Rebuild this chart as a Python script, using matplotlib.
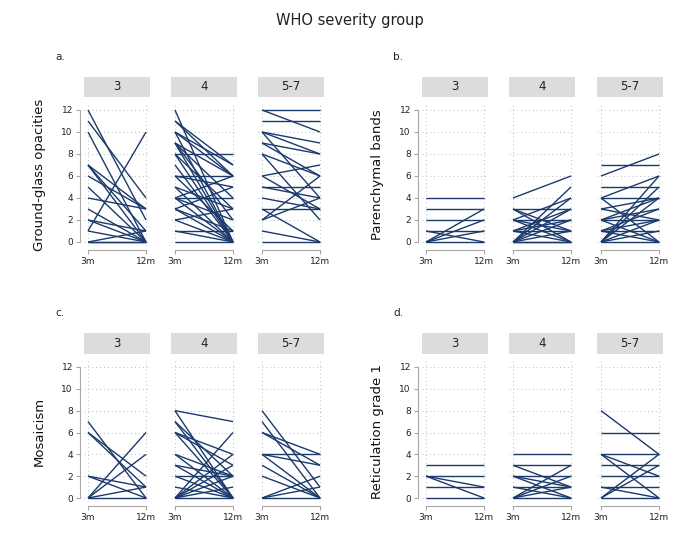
import matplotlib
matplotlib.use("Agg")
import matplotlib.pyplot as plt

# ---------------- data ----------------
time_labels = ["3m", "12m"]
facet_names = ["3", "4", "5-7"]
panel_titles = ["a.", "b.", "c.", "d."]
ylabels = ["Ground-glass opacities", "Parenchymal bands", "Mosaicism", "Reticulation grade 1"]

# a. Ground-glass opacities
a3_3m = [12, 11, 10, 7, 7, 7, 6, 5, 4, 3, 2, 2, 1, 1, 0, 0, 0]
a3_12m = [2, 4, 0, 3, 1, 0, 3, 0, 3, 0, 1, 0, 10, 0, 0, 1, 0]
a4_3m = [12, 11, 11, 10, 10, 10, 9, 9, 9, 9, 8, 8, 8, 7, 6, 6, 6, 5, 5, 4, 4, 4, 4, 3, 3, 3, 2, 2, 1, 1, 0]
a4_12m = [0, 7, 6, 6, 7, 0, 6, 4, 0, 2, 8, 0, 3, 0, 6, 5, 1, 3, 0, 4, 2, 0, 6, 5, 1, 0, 3, 0, 1, 0, 0]
a5_3m = [12, 12, 11, 10, 10, 10, 9, 9, 8, 8, 6, 6, 5, 5, 4, 3, 3, 2, 2, 1, 0]
a5_12m = [12, 10, 11, 9, 8, 4, 8, 6, 6, 2, 7, 3, 5, 4, 3, 3, 0, 6, 4, 0, 0]

# b. Parenchymal bands
b3_3m = [4, 3, 2, 1, 1, 0, 0, 0, 0]
b3_12m = [4, 3, 2, 1, 0, 3, 2, 1, 0]
b4_3m = [4, 3, 3, 3, 2, 2, 2, 2, 1, 1, 1, 1, 0, 0, 0, 0, 0, 0, 0]
b4_12m = [6, 3, 1, 0, 2, 0, 1, 4, 1, 2, 0, 3, 5, 4, 3, 2, 1, 0, 0]
b5_3m = [7, 6, 5, 4, 4, 4, 3, 3, 2, 2, 2, 2, 1, 1, 1, 1, 0, 0, 0, 0, 0, 0]
b5_12m = [7, 8, 5, 4, 6, 0, 4, 2, 2, 3, 0, 4, 1, 3, 2, 0, 6, 5, 4, 2, 1, 0]

# c. Mosaicism
c3_3m = [7, 6, 6, 2, 2, 0, 0, 0, 0]
c3_12m = [0, 2, 1, 1, 0, 6, 4, 1, 0]
c4_3m = [8, 8, 7, 7, 6, 6, 6, 4, 4, 3, 3, 2, 2, 1, 0, 0, 0, 0, 0, 0]
c4_12m = [7, 0, 2, 0, 4, 3, 0, 2, 0, 2, 0, 2, 0, 0, 6, 4, 3, 2, 1, 0]
c5_3m = [8, 7, 6, 6, 4, 4, 4, 3, 2, 0, 0, 0]
c5_12m = [1, 0, 4, 3, 4, 3, 0, 0, 0, 2, 1, 0]

# d. Reticulation grade 1
d3_3m = [3, 2, 2, 2, 1, 0]
d3_12m = [3, 2, 1, 0, 1, 0]
d4_3m = [4, 3, 3, 2, 2, 2, 1, 1, 0, 0, 0, 0]
d4_12m = [4, 3, 1, 2, 1, 0, 1, 0, 3, 2, 1, 0]
d5_3m = [8, 6, 4, 4, 4, 3, 2, 1, 1, 0, 0, 0]
d5_12m = [4, 6, 4, 2, 0, 3, 2, 1, 0, 4, 3, 0]

panels = [
    [(a3_3m, a3_12m), (a4_3m, a4_12m), (a5_3m, a5_12m)],
    [(b3_3m, b3_12m), (b4_3m, b4_12m), (b5_3m, b5_12m)],
    [(c3_3m, c3_12m), (c4_3m, c4_12m), (c5_3m, c5_12m)],
    [(d3_3m, d3_12m), (d4_3m, d4_12m), (d5_3m, d5_12m)],
]

# ---------------- layout ----------------
W, H = 700, 560
fig = plt.figure(figsize=(W / 100, H / 100), dpi=100)
fig.patch.set_facecolor("white")

LINE = "#1b3a6c"
GRID = "#bdbdbd"
SPINE = "#a8a8a8"
STRIP = "#dcdcdc"

col_lefts = [[84, 171, 258], [422, 509, 597]]
facet_w = 66
row_y = [(110, 242), (367, 498)]
pad_x = 4 / 58.0

fig.text(350 / W, 1 - 20 / H, "WHO severity group", ha="center", va="center", fontsize=10.5, color="#222222")

for p in range(4):
    col = p % 2
    row = p // 2
    y12, y0 = row_y[row]
    ppu = (y0 - y12) / 12.0
    ylo, yhi = -0.35, 12.55
    top_px = y12 - (yhi - 12) * ppu
    bot_px = y0 - (ylo - 0) * ppu
    for f in range(3):
        left = col_lefts[col][f]
        ax = fig.add_axes([left / W, 1 - bot_px / H, facet_w / W, (bot_px - top_px) / H])
        ax.set_facecolor("white")
        v3, v12 = panels[p][f]
        for s, e in zip(v3, v12):
            ax.plot([0, 1], [s, e], color=LINE, lw=1.0, solid_capstyle="butt")
        ax.set_xlim(-pad_x, 1 + pad_x)
        ax.set_ylim(ylo, yhi)
        ax.set_yticks(range(0, 13, 2))
        ax.set_xticks([0, 1])
        ax.set_xticklabels(time_labels)
        ax.grid(True, linestyle=(0, (1, 3)), color=GRID, lw=0.7)
        ax.set_axisbelow(True)
        for sp in ["top", "right"]:
            ax.spines[sp].set_visible(False)
        ax.spines["bottom"].set_position(("data", -0.7))
        ax.spines["bottom"].set_bounds(0, 1)
        ax.spines["bottom"].set_color(SPINE)
        ax.tick_params(axis="x", length=3, color=SPINE, labelsize=6.5, pad=2, labelcolor="#222222")
        if f == 0:
            ax.spines["left"].set_position(("data", -0.14))
            ax.spines["left"].set_bounds(0, 12)
            ax.spines["left"].set_color(SPINE)
            ax.tick_params(axis="y", length=3, color=SPINE, labelsize=6.5, pad=2, labelcolor="#222222")
            ax.set_ylabel(ylabels[p], fontsize=9.5, color="#111111", labelpad=11)
        else:
            ax.spines["left"].set_visible(False)
            ax.tick_params(axis="y", length=0, labelleft=False)
        strip_top = 77 if row == 0 else 333
        strip_bot = 97 if row == 0 else 354
        sax = fig.add_axes([left / W, 1 - strip_bot / H, facet_w / W, (strip_bot - strip_top) / H])
        sax.set_facecolor(STRIP)
        sax.set_xticks([])
        sax.set_yticks([])
        for sp in sax.spines.values():
            sp.set_visible(False)
        sax.text(0.5, 0.5, facet_names[f], ha="center", va="center", fontsize=8.5, color="#222222",
                 transform=sax.transAxes)
    lx = 55 if col == 0 else 393
    ly = 57 if row == 0 else 313
    fig.text(lx / W, 1 - ly / H, panel_titles[p], ha="left", va="center", fontsize=7.5, color="#222222")

fig.savefig("out.png", dpi=100, facecolor="white")
